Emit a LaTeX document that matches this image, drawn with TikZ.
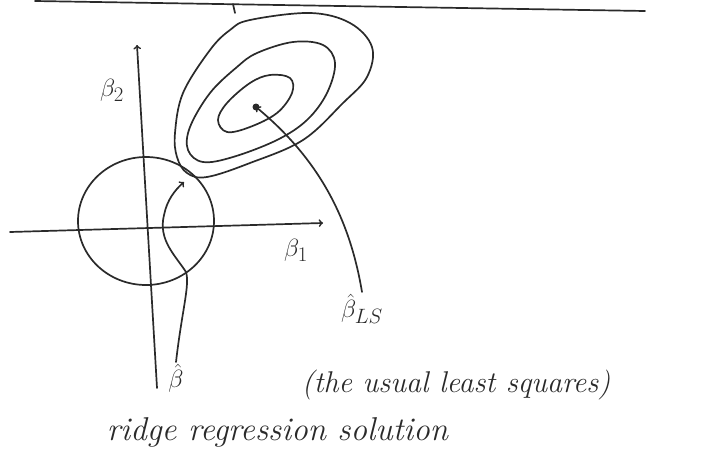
\documentclass[tikz,border=0pt]{standalone}
\usepackage{tikz}
\definecolor{sketchInk}{HTML}{2A2A2A}

\begin{document}
\begin{tikzpicture}[x=1pt, y=-1pt, line width=1.7pt, draw=sketchInk, line cap=round, line join=round,
  hand/.style={text=sketchInk, font=\fontsize{30}{34}\selectfont\itshape, inner sep=1pt},
  mathlbl/.style={text=sketchInk, font=\fontsize{31}{34}\selectfont, inner sep=1pt}]
\useasboundingbox (0,0) rectangle (724,469);
% rule at the top of the page
\draw (35,1) -- (645,11);
\draw (233,4) -- (235,13);
% axes
\coordinate (xl) at (10,232);
\coordinate (xr) at (323,223);
\coordinate (yb) at (157,388);
\coordinate (yt) at (137,45);
\draw[->] (xl) -- (xr);
\draw[->] (yb) -- (yt);
% constraint region
\draw (146,221) ellipse [x radius=68, y radius=64];
% contours of the RSS
\draw plot[smooth cycle, tension=0.6] coordinates {(250,20) (310,13) (350,23) (372,47) (367,77) (343,103) (303,140) (250,163) (207,177) (187,173) (177,157) (175,133) (183,93) (210,50) (230,30)};
\draw plot[smooth cycle, tension=0.6] coordinates {(257,53) (293,42) (323,45) (335,63) (327,93) (307,120) (277,140) (233,157) (203,162) (188,150) (190,127) (210,93) (237,67)};
\draw plot[smooth cycle, tension=0.6] coordinates {(250,83) (270,75) (290,78) (292,93) (277,113) (250,127) (227,132) (218,120) (227,103)};
\coordinate (ls) at (256,107);
\fill[sketchInk] (ls) circle (3.5);
\coordinate (rdg) at (184,182);
% labels
\node[mathlbl] (b2) at (112,90) {$\beta_2$};
\node[mathlbl] (b1) at (296,250) {$\beta_1$};
\node[mathlbl, anchor=north] (bls) at (362,292) {$\hat\beta_{LS}$};
\node[mathlbl, anchor=north] (bhat) at (176,362) {$\hat\beta$};
\node[hand, anchor=west] (lsq) at (300,385) {(the usual least squares)};
\node[hand, anchor=west, font=\fontsize{33}{36}\selectfont\itshape] (ridge) at (105,432) {ridge regression solution};
% arrows to the two solutions
\draw[->] (bls.north) .. controls (350,220) and (320,160) .. (ls);
\draw[->] (bhat.north) .. controls (182,310) and (190,285) .. (186,272) .. controls (175,255) and (158,240) .. (164,215) .. controls (167,200) and (175,190) .. (rdg);
\end{tikzpicture}
\end{document}
